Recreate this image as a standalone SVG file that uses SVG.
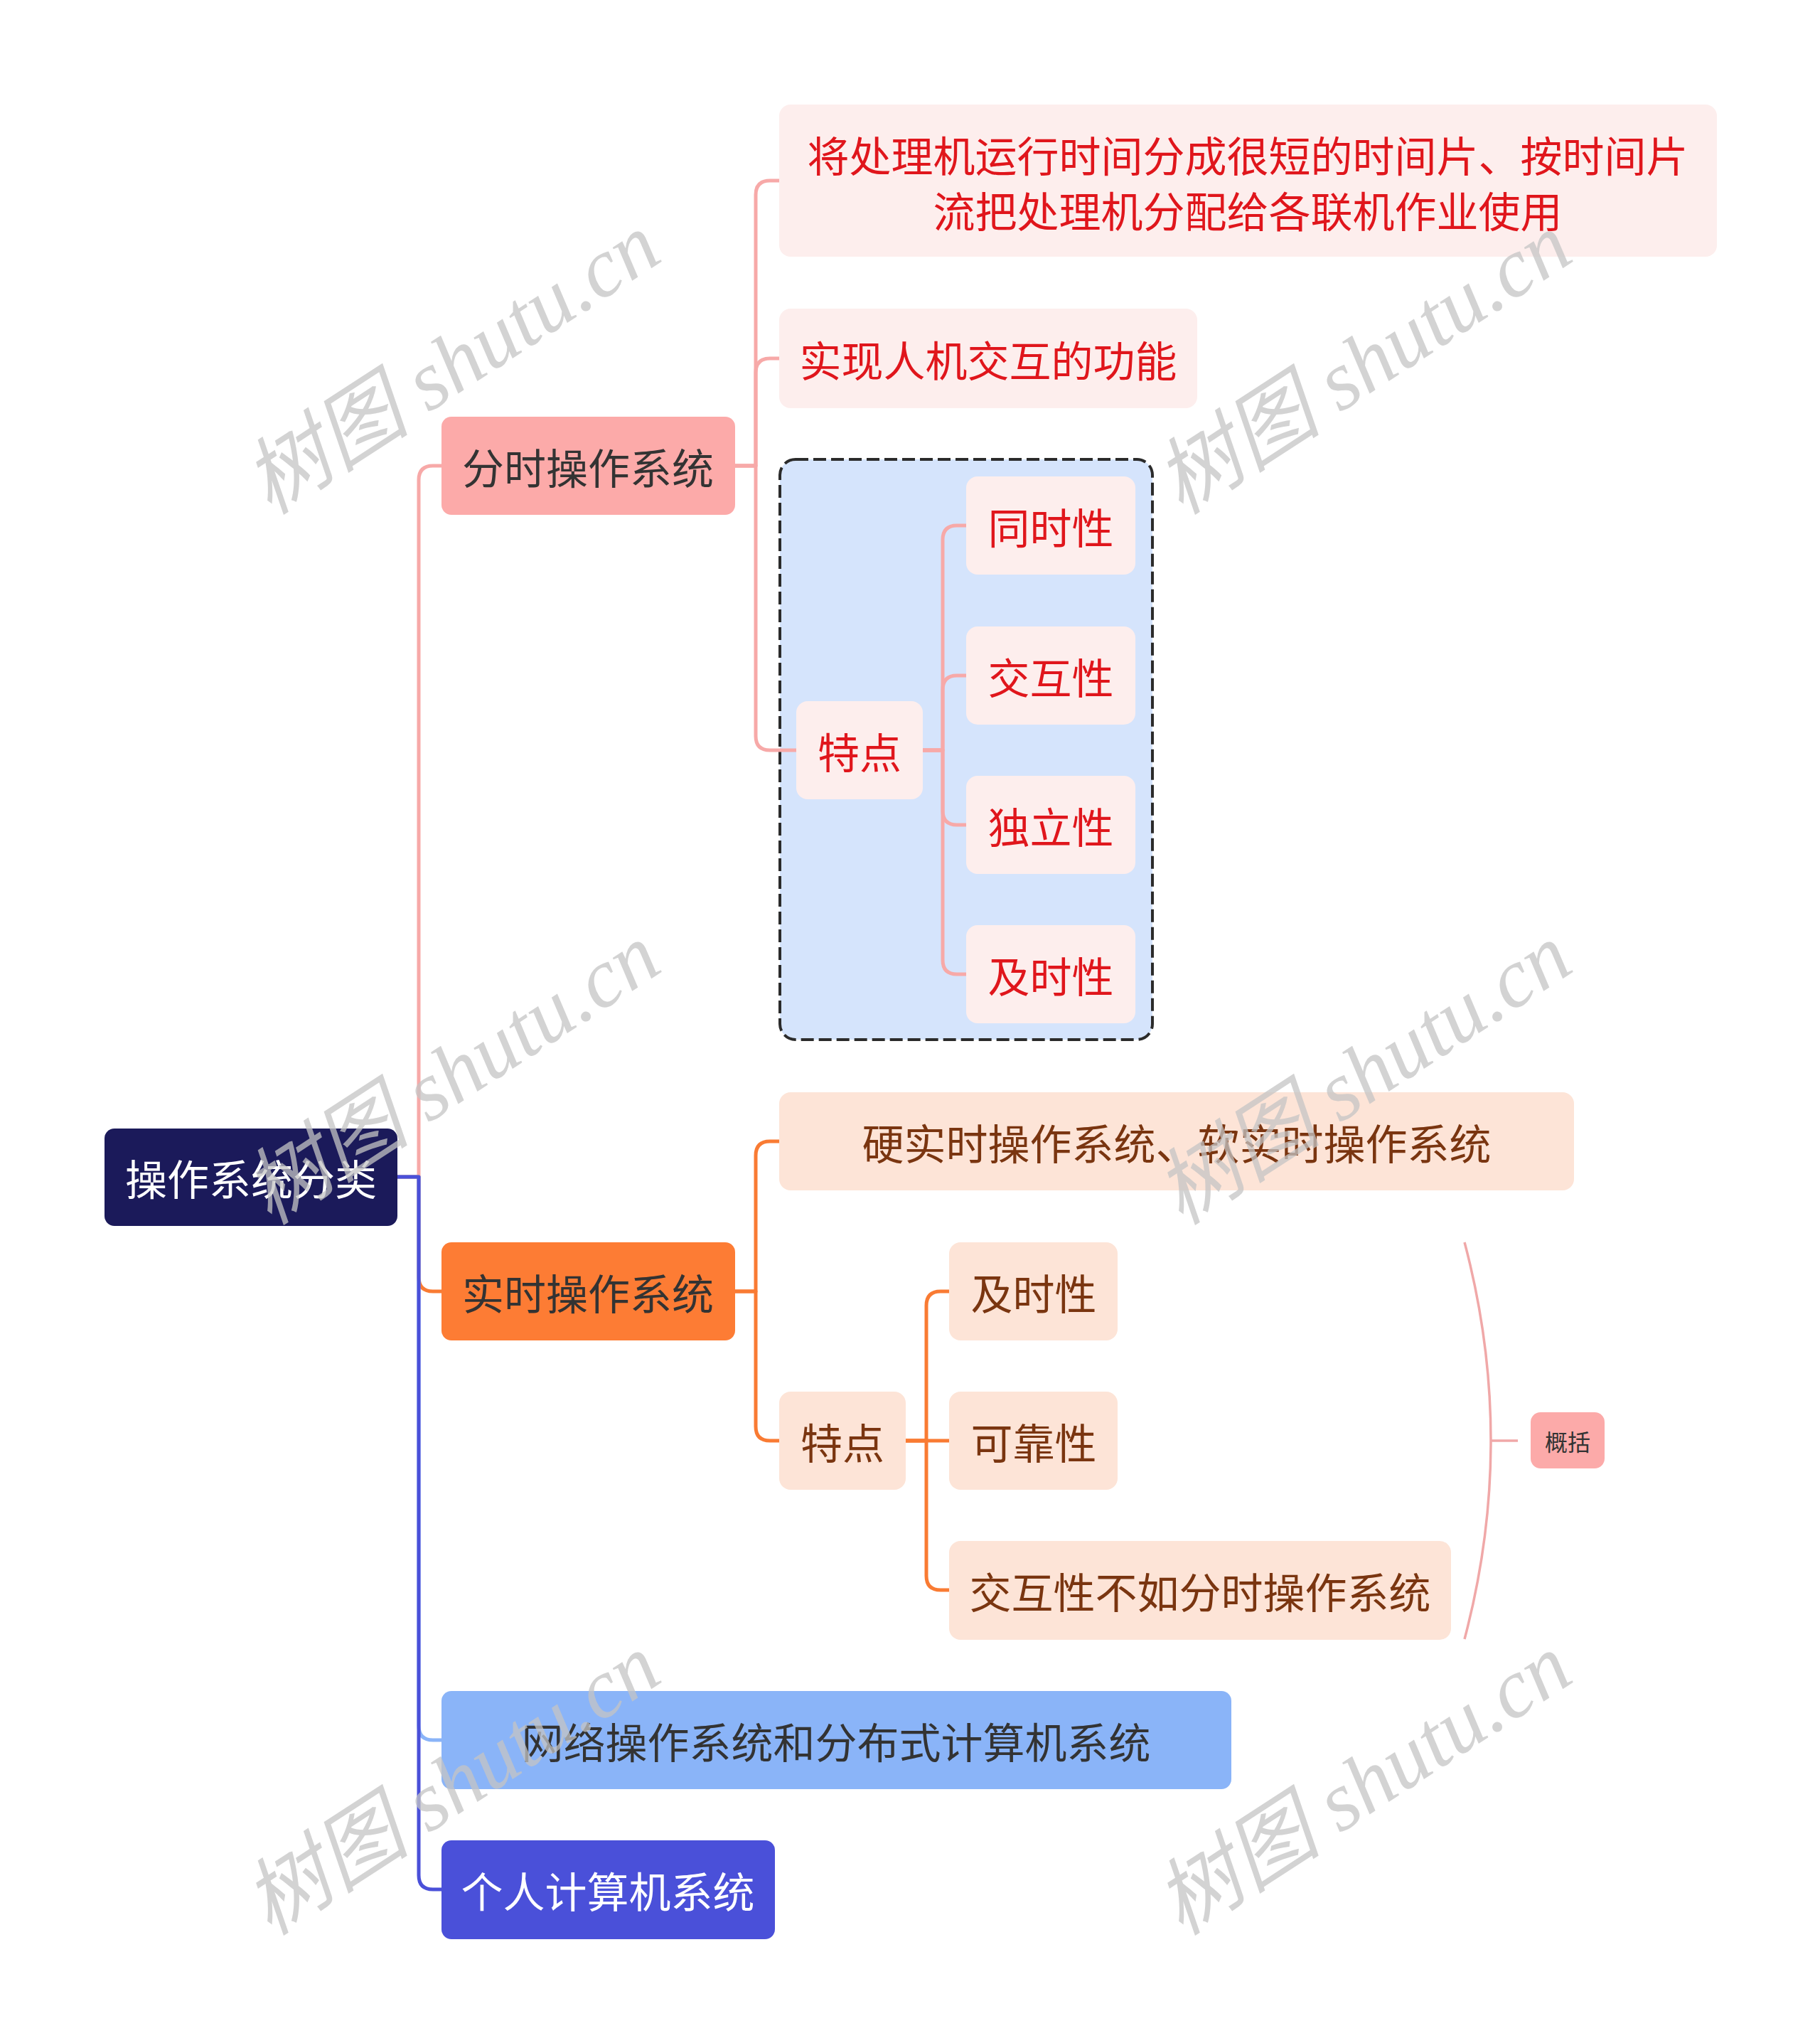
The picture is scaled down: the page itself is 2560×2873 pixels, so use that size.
<svg xmlns="http://www.w3.org/2000/svg" width="2560" height="2873" viewBox="0 0 2560 2873">
<style>
  text { font-family: "Noto Sans CJK SC", "Noto Sans", sans-serif; font-size: 59px; text-anchor: middle; dominant-baseline: central; }
  .dark { fill: #333333; }
  .white { fill: #ffffff; }
  .red { fill: #e0161c; }
  .brown { fill: #7a3510; }
  .c { fill: none; stroke-width: 5; stroke-linecap: round; stroke-linejoin: round; }
  .pink { stroke: #f7a9a8; }
  .orange { stroke: #f97b33; }
  .lblue { stroke: #8ab4f8; }
  .blue { stroke: #4a50d9; }
  .wm { font-family: "Liberation Serif", "Noto Sans CJK SC", serif; font-style: italic; font-size: 118px; fill: #c4c4c4; fill-opacity: 0.75; }
</style>
<rect x="0" y="0" width="2560" height="2873" fill="#ffffff"/>

<g id="boundary">
  <rect x="1097" y="646" width="524" height="816" rx="22" fill="#d5e4fc" stroke="#2b2b2b" stroke-width="4" stroke-dasharray="18 7"/>
</g>

<g id="connectors">
  <path class="c pink" d="M559,1655 H589 V675 Q589,655 609,655 H621"/>
  <path class="c orange" d="M559,1655 H589 V1796 Q589,1816 609,1816 H621"/>
  <path class="c lblue" d="M559,1655 H589 V2427 Q589,2447 609,2447 H621"/>
  <path class="c blue" d="M559,1655 H589 V2637 Q589,2657 609,2657 H621"/>

  <path class="c pink" d="M1034,655 H1063 V274 Q1063,254 1083,254 H1096"/>
  <path class="c pink" d="M1034,655 H1063 V524 Q1063,504 1083,504 H1096"/>
  <path class="c pink" d="M1034,655 H1063 V1035 Q1063,1055 1083,1055 H1120"/>

  <path class="c pink" d="M1298,1055 H1326 V759 Q1326,739 1346,739 H1359"/>
  <path class="c pink" d="M1298,1055 H1326 V970 Q1326,950 1346,950 H1359"/>
  <path class="c pink" d="M1298,1055 H1326 V1140 Q1326,1160 1346,1160 H1359"/>
  <path class="c pink" d="M1298,1055 H1326 V1350 Q1326,1370 1346,1370 H1359"/>

  <path class="c orange" d="M1034,1816 H1063 V1625 Q1063,1605 1083,1605 H1096"/>
  <path class="c orange" d="M1034,1816 H1063 V2006 Q1063,2026 1083,2026 H1096"/>

  <path class="c orange" d="M1274,2026 H1303 V1836 Q1303,1816 1323,1816 H1335"/>
  <path class="c orange" d="M1274,2026 H1335"/>
  <path class="c orange" d="M1274,2026 H1303 V2216 Q1303,2236 1323,2236 H1335"/>

  <path d="M2060,1747 Q2134,2026 2060,2305" fill="none" stroke="#f0a8a8" stroke-width="3.5"/>
  <path d="M2097,2026 H2135" fill="none" stroke="#f0a8a8" stroke-width="3.5"/>
</g>

<g id="root">
  <rect x="147" y="1587" width="412" height="137" rx="14" fill="#1b1a5a"/>
  <text class="white" x="353" y="1655">操作系统分类</text>
</g>

<g id="n-fenshi">
  <rect x="621" y="586" width="413" height="138" rx="14" fill="#fcaaa9"/>
  <text class="dark" x="827" y="655">分时操作系统</text>
</g>

<g id="n-leaf1">
  <rect x="1096" y="147" width="1319" height="214" rx="16" fill="#fdeeed"/>
  <text class="red" x="1755" y="216">将处理机运行时间分成很短的时间片、按时间片<tspan x="1755" dy="78">流把处理机分配给各联机作业使用</tspan></text>
</g>

<g id="n-leaf2">
  <rect x="1096" y="434" width="588" height="140" rx="16" fill="#fdeeed"/>
  <text class="red" x="1390" y="504">实现人机交互的功能</text>
</g>

<g id="n-tedian1">
  <rect x="1120" y="986" width="178" height="138" rx="16" fill="#fdeeed"/>
  <text class="red" x="1209" y="1055">特点</text>
</g>

<g id="n-tongshi">
  <rect x="1359" y="670" width="238" height="138" rx="16" fill="#fdeeed"/>
  <text class="red" x="1478" y="739">同时性</text>
</g>
<g id="n-jiaohu">
  <rect x="1359" y="881" width="238" height="138" rx="16" fill="#fdeeed"/>
  <text class="red" x="1478" y="950">交互性</text>
</g>
<g id="n-duli">
  <rect x="1359" y="1091" width="238" height="138" rx="16" fill="#fdeeed"/>
  <text class="red" x="1478" y="1160">独立性</text>
</g>
<g id="n-jishi1">
  <rect x="1359" y="1301" width="238" height="138" rx="16" fill="#fdeeed"/>
  <text class="red" x="1478" y="1370">及时性</text>
</g>

<g id="n-shishi">
  <rect x="621" y="1747" width="413" height="138" rx="14" fill="#fd7c34"/>
  <text class="dark" x="827" y="1816">实时操作系统</text>
</g>

<g id="n-ying">
  <rect x="1096" y="1536" width="1118" height="138" rx="16" fill="#fde4d7"/>
  <text class="brown" x="1655" y="1605">硬实时操作系统、软实时操作系统</text>
</g>

<g id="n-tedian2">
  <rect x="1096" y="1957" width="178" height="138" rx="16" fill="#fde4d7"/>
  <text class="brown" x="1185" y="2026">特点</text>
</g>

<g id="n-jishi2">
  <rect x="1335" y="1747" width="237" height="138" rx="16" fill="#fde4d7"/>
  <text class="brown" x="1454" y="1816">及时性</text>
</g>
<g id="n-kekao">
  <rect x="1335" y="1957" width="237" height="138" rx="16" fill="#fde4d7"/>
  <text class="brown" x="1454" y="2026">可靠性</text>
</g>
<g id="n-buru">
  <rect x="1335" y="2167" width="706" height="139" rx="16" fill="#fde4d7"/>
  <text class="brown" x="1688" y="2236">交互性不如分时操作系统</text>
</g>

<g id="n-gaikuo">
  <rect x="2153" y="1986" width="104" height="79" rx="14" fill="#fcaaa9"/>
  <text class="dark" x="2205" y="2026" style="font-size:32px">概括</text>
</g>

<g id="n-wangluo">
  <rect x="621" y="2378" width="1111" height="138" rx="14" fill="#8ab4f8"/>
  <text class="dark" x="1176" y="2447">网络操作系统和分布式计算机系统</text>
</g>

<g id="n-geren">
  <rect x="621" y="2588" width="469" height="139" rx="14" fill="#4a50d9"/>
  <text class="white" x="855" y="2657">个人计算机系统</text>
</g>

<g id="watermarks">
  <text class="wm" transform="translate(636,512) rotate(-33)">树图 shutu.cn</text>
  <text class="wm" transform="translate(1918,512) rotate(-33)">树图 shutu.cn</text>
  <text class="wm" transform="translate(636,1511) rotate(-33)">树图 shutu.cn</text>
  <text class="wm" transform="translate(1918,1511) rotate(-33)">树图 shutu.cn</text>
  <text class="wm" transform="translate(636,2510) rotate(-33)">树图 shutu.cn</text>
  <text class="wm" transform="translate(1918,2510) rotate(-33)">树图 shutu.cn</text>
</g>
</svg>
